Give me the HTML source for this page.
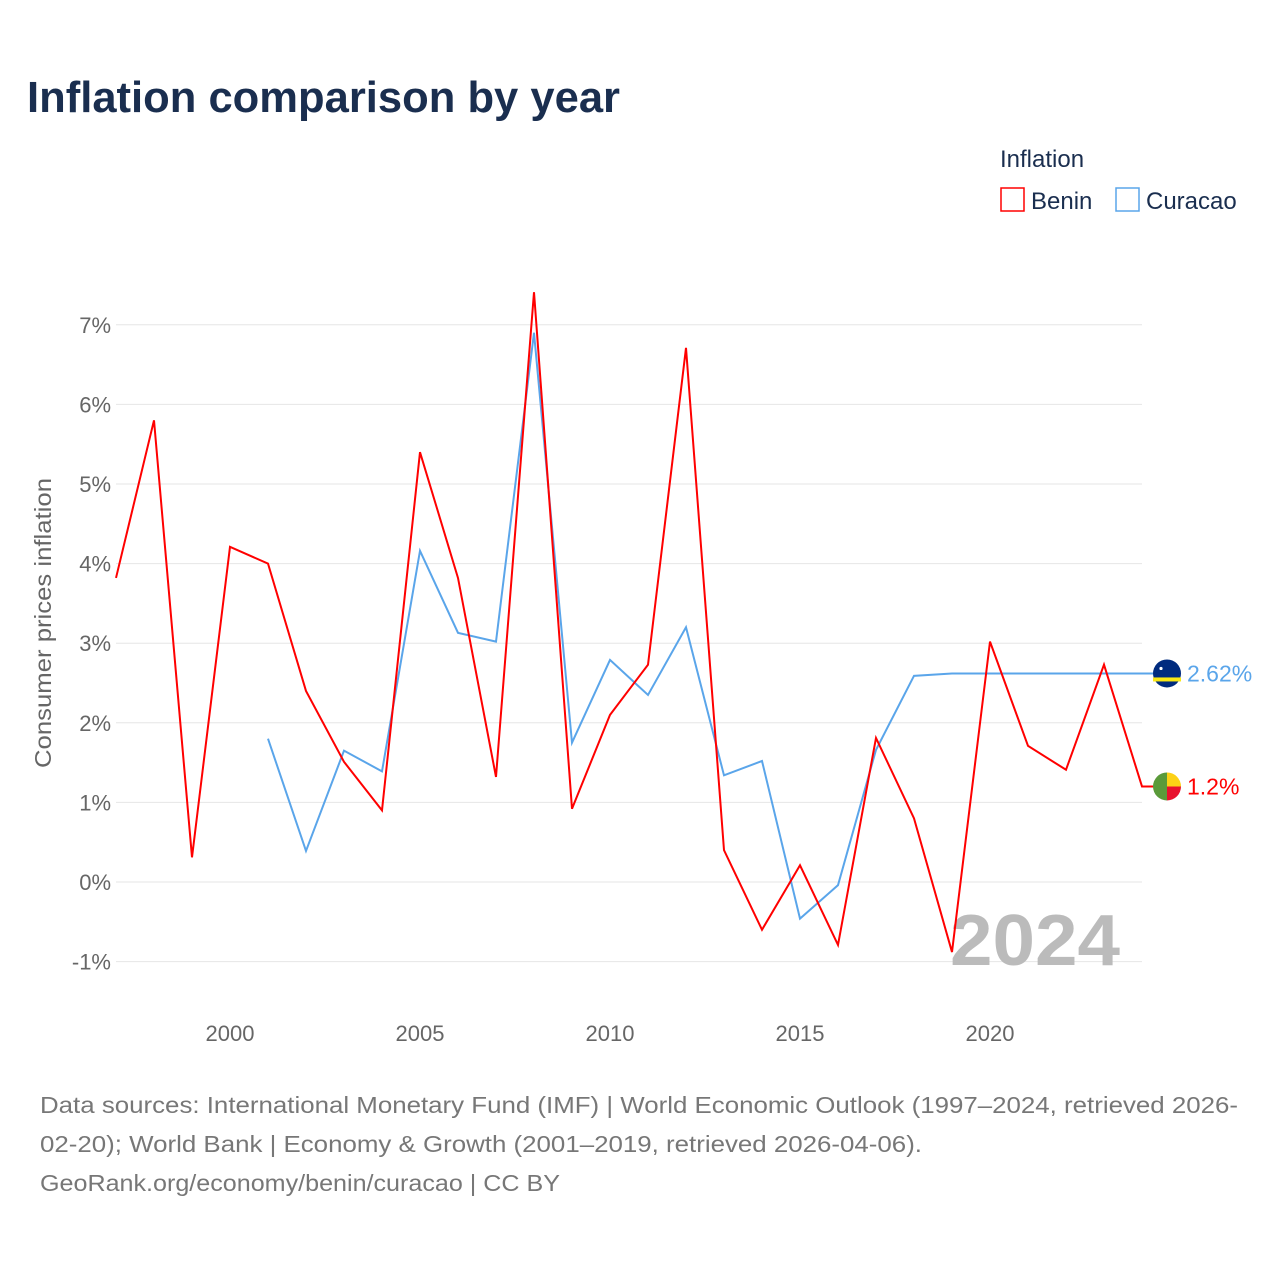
<!DOCTYPE html>
<html><head><meta charset="utf-8"><style>
body{margin:0;background:#fff;font-family:"Liberation Sans",sans-serif;}
</style></head><body>
<svg width="1280" height="1280" xmlns="http://www.w3.org/2000/svg" style="font-family:'Liberation Sans',sans-serif">
<text x="27" y="112" font-size="44" font-weight="bold" fill="#1a2e4f" textLength="593" lengthAdjust="spacingAndGlyphs">Inflation comparison by year</text>
<text x="1000" y="167" font-size="24" fill="#1a2e4f">Inflation</text>
<g><rect x="1001" y="188" width="23" height="23" fill="none" stroke="#ff0000" stroke-width="1.5"/><text x="1031" y="209" font-size="24" fill="#1a2e4f">Benin</text></g>
<g><rect x="1116" y="188" width="23" height="23" fill="none" stroke="#5aa5ea" stroke-width="1.5"/><text x="1146" y="209" font-size="24" fill="#1a2e4f">Curacao</text></g>
<g id="grid"></g><g id="yt"></g><g id="xt"></g>
<text transform="translate(51,623) rotate(-90)" text-anchor="middle" font-size="23" fill="#666" textLength="290" lengthAdjust="spacingAndGlyphs">Consumer prices inflation</text>
<text x="1120" y="965" text-anchor="end" font-size="72" font-weight="bold" fill="#bbb" textLength="170" lengthAdjust="spacingAndGlyphs">2024</text>
<g id="series"></g>
<text x="40" y="1113" font-size="23" fill="#777" textLength="1198" lengthAdjust="spacingAndGlyphs">Data sources: International Monetary Fund (IMF) | World Economic Outlook (1997–2024, retrieved 2026-</text>
<text x="40" y="1152" font-size="23" fill="#777" textLength="882" lengthAdjust="spacingAndGlyphs">02-20); World Bank | Economy &amp; Growth (2001–2019, retrieved 2026-04-06).</text>
<text x="40" y="1191" font-size="23" fill="#777" textLength="520" lengthAdjust="spacingAndGlyphs">GeoRank.org/economy/benin/curacao | CC BY</text>
</svg>
<script>
const years=[1997,1998,1999,2000,2001,2002,2003,2004,2005,2006,2007,2008,2009,2010,2011,2012,2013,2014,2015,2016,2017,2018,2019,2020,2021,2022,2023,2024];
const benin=[3.82,5.8,0.31,4.21,4.0,2.4,1.51,0.9,5.4,3.82,1.32,7.41,0.92,2.1,2.73,6.71,0.4,-0.6,0.21,-0.79,1.81,0.8,-0.88,3.02,1.71,1.41,2.73,1.2];
const curYears=[2001,2002,2003,2004,2005,2006,2007,2008,2009,2010,2011,2012,2013,2014,2015,2016,2017,2018,2019];
const curacao=[1.8,0.39,1.65,1.39,4.16,3.13,3.02,6.9,1.75,2.79,2.35,3.2,1.34,1.52,-0.46,-0.04,1.66,2.59,2.62];
const yTicks=[-1,0,1,2,3,4,5,6,7];
const xTicks=[2000,2005,2010,2015,2020];
const X=y=>116+(y-1997)*38, Y=v=>882-v*79.6;
const NS="http://www.w3.org/2000/svg";
function mk(t,a,p){const e=document.createElementNS(NS,t);for(const k in a)e.setAttribute(k,a[k]);p.appendChild(e);return e;}
const grid=document.getElementById('grid'),yt=document.getElementById('yt'),xt=document.getElementById('xt'),s=document.getElementById('series');
yTicks.forEach(v=>{
 const l=mk('line',{x1:116,x2:1142,y1:Y(v),y2:Y(v),stroke:'#e6e6e6','stroke-width':1},grid);
 
 
 const t=mk('text',{x:111,y:Y(v)+8,'text-anchor':'end','font-size':22,fill:'#666'},yt);t.textContent=v+'%';
 
 
});
xTicks.forEach(v=>{
 const t=mk('text',{x:X(v),y:1041,'text-anchor':'middle','font-size':22,fill:'#666'},xt);t.textContent=v;
 
 
});
const cl=curacao[curacao.length-1];
const cp=curYears.map((y,i)=>X(y)+','+Y(curacao[i])).join(' ')+' '+(X(2024)+24)+','+Y(cl);
const c=mk('polyline',{points:cp,fill:'none',stroke:'#5aa5ea','stroke-width':2},s);


const bl=benin[benin.length-1];
const bp=years.map((y,i)=>X(y)+','+Y(benin[i])).join(' ')+' '+(X(2024)+14)+','+Y(bl);
const b=mk('polyline',{points:bp,fill:'none',stroke:'#ff0000','stroke-width':2},s);


const fx=1167;
const cf=mk('g',{},s);


mk('circle',{cx:fx,cy:Y(cl),r:14,fill:'#002b7f'},cf);
mk('rect',{x:fx-14,y:Y(cl)+4,width:28,height:4,fill:'#f9e814'},cf);
mk('circle',{cx:fx-6,cy:Y(cl)-5,r:1.6,fill:'#fff'},cf);
const ct=mk('text',{x:1187,y:Y(cl)+8,'font-size':23,fill:'#5aa5ea'},s);ct.textContent=cl+'%';


const bf=mk('g',{},s);


const by=Y(bl);
mk('path',{d:`M${fx} ${by-14} A14 14 0 0 0 ${fx} ${by+14} Z`,fill:'#5a9a3a'},bf);
mk('path',{d:`M${fx} ${by-14} A14 14 0 0 1 ${fx+14} ${by} L${fx} ${by} Z`,fill:'#fcd116'},bf);
mk('path',{d:`M${fx} ${by} L${fx+14} ${by} A14 14 0 0 1 ${fx} ${by+14} Z`,fill:'#e8112d'},bf);
const bt=mk('text',{x:1187,y:by+8,'font-size':23,fill:'#ff0000'},s);bt.textContent=bl+'%';


</script>
</body></html>
